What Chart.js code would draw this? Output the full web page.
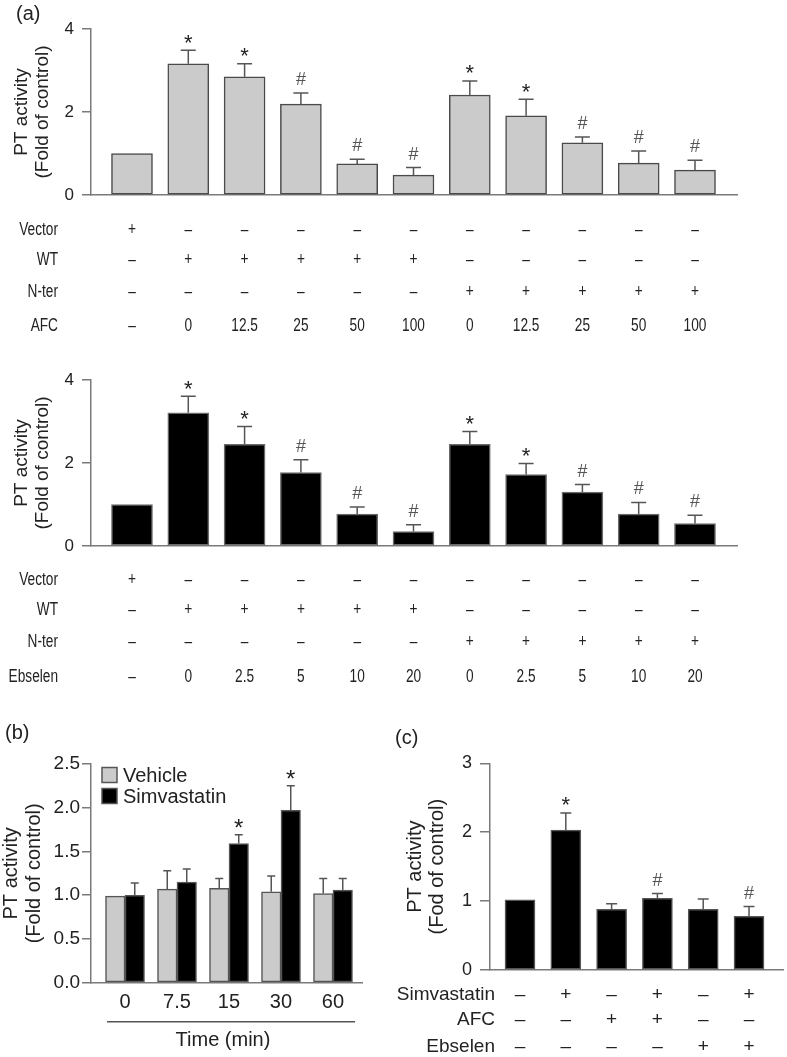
<!DOCTYPE html>
<html><head><meta charset="utf-8">
<script src="https://cdn.jsdelivr.net/npm/chart.js@4.4.1/dist/chart.umd.min.js"></script>
<style>
html,body{margin:0;padding:0;background:#fff;}
#wrap{position:relative;width:787px;height:1057px;overflow:hidden;background:#fff;}
canvas{position:absolute;display:block;}
</style></head><body>
<div id="wrap">
<canvas id="ca1" width="787" height="351" style="left:0;top:0"></canvas>
<canvas id="ca2" width="787" height="339" style="left:0;top:351px"></canvas>
<canvas id="cb" width="380" height="367" style="left:0;top:690px"></canvas>
<canvas id="cc" width="407" height="367" style="left:380px;top:690px"></canvas>
</div>
<script>
// ---------- Panel (a) top: AFC ----------
const vectorRow = ['+','–','–','–','–','–','–','–','–','–','–'];
const wtRow     = ['–','+','+','+','+','+','–','–','–','–','–'];
const nterRow   = ['–','–','–','–','–','–','+','+','+','+','+'];
const afcDoses  = ['–','0','12.5','25','50','100','0','12.5','25','50','100'];
const afcValues = [1.00,3.16,2.85,2.19,0.75,0.48,2.41,1.91,1.26,0.77,0.60];
const afcErrors = [0,0.33,0.31,0.27,0.11,0.18,0.34,0.40,0.14,0.29,0.24];
const afcMarks  = ['','*','*','#','#','#','*','*','#','#','#'];

// ---------- Panel (a) bottom: Ebselen ----------
const ebselenDoses  = ['–','0','2.5','5','10','20','0','2.5','5','10','20'];
const ebselenValues = [1.00,3.21,2.45,1.77,0.77,0.35,2.45,1.72,1.30,0.77,0.54];
const ebselenErrors = [0,0.40,0.43,0.31,0.17,0.16,0.31,0.27,0.18,0.28,0.20];
const ebselenMarks  = ['','*','*','#','#','#','*','*','#','#','#'];

// ---------- Panel (b): time course ----------
const timeLabels     = ['0','7.5','15','30','60'];
const vehicleValues  = [0.99,1.07,1.08,1.04,1.02];
const vehicleErrors  = [0,0.21,0.11,0.18,0.17];
const simvValues     = [1.00,1.15,1.59,1.97,1.06];
const simvErrors     = [0.14,0.15,0.10,0.28,0.13];
const simvMarks      = ['','','*','*',''];

// ---------- Panel (c) ----------
const cSimvRow  = ['–','+','–','+','–','+'];
const cAfcRow   = ['–','–','+','+','–','–'];
const cEbsRow   = ['–','–','–','–','+','+'];
const cValues   = [1.02,2.03,0.88,1.04,0.88,0.78];
const cErrors   = [0,0.25,0.08,0.07,0.15,0.14];
const cMarks    = ['','*','','#','','#'];

const FONT = "'Liberation Sans', Arial, Helvetica, sans-serif";
const AXIS = '#7a7a7a';
const TEXT = '#222';

function toXY(vals){ return vals.map((v,i)=>({x:i,y:v})); }

const errorBarPlugin = {
  id: 'errorBars',
  afterDatasetsDraw(chart, args, opts) {
    if (!opts || !opts.cap) return;
    const ctx = chart.ctx, ys = chart.scales.y;
    chart.data.datasets.forEach((ds, di) => {
      const meta = chart.getDatasetMeta(di);
      meta.data.forEach((el, i) => {
        const v = ds.data[i].y, e = (ds.errors || [])[i] || 0;
        const yTop = ys.getPixelForValue(v + e);
        ctx.save();
        ctx.strokeStyle = opts.color; ctx.lineWidth = opts.lineWidth;
        if (e > 0) {
          ctx.beginPath();
          ctx.moveTo(el.x, el.y); ctx.lineTo(el.x, yTop);
          ctx.moveTo(el.x - opts.cap/2, yTop); ctx.lineTo(el.x + opts.cap/2, yTop);
          ctx.stroke();
        }
        const m = (ds.marks || [])[i];
        if (m) {
          ctx.textAlign = 'center'; ctx.textBaseline = 'alphabetic';
          if (m === '*') {
            ctx.fillStyle = '#222';
            ctx.font = opts.starSize + 'px ' + FONT;
            ctx.fillText('*', el.x, yTop - 13 + opts.starSize * 0.57);
          } else {
            ctx.fillStyle = '#555';
            ctx.font = opts.hashSize + 'px ' + FONT;
            ctx.fillText('#', el.x, yTop - 8);
          }
        }
        ctx.restore();
      });
    });
  }
};

function drawScaled(ctx, t, x, y, align, sx) {
  ctx.save(); ctx.translate(x, y); ctx.scale(sx, 1); ctx.textAlign = align; ctx.fillText(t, 0, 0); ctx.restore();
}

const tablePlugin = {
  id: 'signTable',
  afterDraw(chart, args, opts) {
    if (!opts || !opts.rows) return;
    const ctx = chart.ctx, xs = chart.scales.x;
    ctx.save();
    ctx.fillStyle = TEXT; ctx.font = opts.size + 'px ' + FONT; ctx.textBaseline = 'middle';
    opts.rows.forEach((row, r) => {
      const yy = opts.ys[r];
      drawScaled(ctx, row.label, opts.labelRight, yy, 'right', opts.sx);
      row.values.forEach((t, i) => drawScaled(ctx, t, xs.getPixelForValue(i), yy, 'center', opts.sx));
    });
    ctx.restore();
  }
};

const extrasPlugin = {
  id: 'extras',
  afterDraw(chart, args, opts) {
    if (!opts) return;
    const ctx = chart.ctx;
    ctx.save();
    if (opts.panel) {
      ctx.fillStyle = TEXT; ctx.font = opts.panel.size + 'px ' + FONT;
      ctx.textAlign = 'left'; ctx.textBaseline = 'middle';
      ctx.fillText(opts.panel.text, opts.panel.x, opts.panel.y);
    }
    if (opts.legend) {
      const L = opts.legend;
      chart.data.datasets.forEach((ds, i) => {
        const cy = L.y + i * L.dy;
        ctx.fillStyle = ds.backgroundColor; ctx.strokeStyle = ds.borderColor; ctx.lineWidth = 1.5;
        ctx.fillRect(L.x, cy - L.box/2, L.box, L.box);
        ctx.strokeRect(L.x, cy - L.box/2, L.box, L.box);
        ctx.fillStyle = TEXT; ctx.font = L.size + 'px ' + FONT; ctx.textAlign = 'left'; ctx.textBaseline = 'middle';
        ctx.fillText(ds.label, L.x + L.box + 6, cy + 1);
      });
    }
    if (opts.xnote) {
      const N = opts.xnote;
      ctx.strokeStyle = '#555'; ctx.lineWidth = 1.5;
      ctx.beginPath(); ctx.moveTo(N.x1, N.ly); ctx.lineTo(N.x2, N.ly); ctx.stroke();
      ctx.fillStyle = TEXT; ctx.font = N.size + 'px ' + FONT; ctx.textAlign = 'center'; ctx.textBaseline = 'middle';
      ctx.fillText(N.text, N.tx, N.ty);
    }
    ctx.restore();
  }
};

function yAxis(min, max, step, tickSize, tickPad, tickLen, width, title, titleSize, titleLH, titlePad, cb) {
  return {
    type: 'linear', position: 'left', min, max,
    ticks: { stepSize: step, font: { size: tickSize, family: FONT }, color: TEXT, padding: tickPad,
             callback: cb || (v => v) },
    grid: { display: true, drawOnChartArea: false, drawTicks: true, tickLength: tickLen, color: AXIS, lineWidth: 1.5 },
    border: { display: true, color: AXIS, width: 1.5 },
    title: { display: true, text: title, color: TEXT, font: { size: titleSize, family: FONT, lineHeight: titleLH },
             padding: { top: titlePad, bottom: 0 } },
    afterFit: s => { s.width = width; }
  };
}

function xAxisHidden(min, max) {
  return {
    type: 'linear', min, max, offset: false,
    ticks: { display: false },
    grid: { display: false, drawTicks: false, offset: false },
    border: { display: true, color: AXIS, width: 1.5 },
    afterFit: s => { s.height = 0; }
  };
}

const common = { responsive: false, animation: false, devicePixelRatio: 1, events: [] };

// ---- Panel a top
new Chart(document.getElementById('ca1'), {
  type: 'bar',
  data: { datasets: [{ label: 'AFC', data: toXY(afcValues), errors: afcErrors, marks: afcMarks,
    backgroundColor: '#cbcbcb', borderColor: '#4a4a4a', borderWidth: 1.5, borderSkipped: false, barThickness: 41 }] },
  options: Object.assign({}, common, {
    layout: { padding: { left: 0, right: 50, top: 29, bottom: 156 } },
    scales: {
      x: xAxisHidden(-0.728, 10.746),
      y: yAxis(0, 4, 2, 17, 8, 9, 91, ['PT activity', '(Fold of control)'], 19, 1.1, 11.5)
    },
    plugins: {
      legend: { display: false }, tooltip: { enabled: false },
      errorBars: { cap: 15, color: '#555', lineWidth: 1.5, starSize: 22, hashSize: 18 },
      signTable: { size: 18, sx: 0.76, labelRight: 58, ys: [230, 260, 292, 326],
        rows: [ { label: 'Vector', values: vectorRow }, { label: 'WT', values: wtRow },
                { label: 'N-ter', values: nterRow }, { label: 'AFC', values: afcDoses } ] },
      extras: { panel: { text: '(a)', x: 16, y: 14, size: 20 } }
    }
  }),
  plugins: [errorBarPlugin, tablePlugin, extrasPlugin]
});

// ---- Panel a bottom
new Chart(document.getElementById('ca2'), {
  type: 'bar',
  data: { datasets: [{ label: 'Ebselen', data: toXY(ebselenValues), errors: ebselenErrors, marks: ebselenMarks,
    backgroundColor: '#000000', borderColor: '#6a6a6a', borderWidth: 1.5, borderSkipped: false, barThickness: 41 }] },
  options: Object.assign({}, common, {
    layout: { padding: { left: 0, right: 50, top: 29, bottom: 144 } },
    scales: {
      x: xAxisHidden(-0.728, 10.746),
      y: yAxis(0, 4, 2, 17, 8, 9, 91, ['PT activity', '(Fold of control)'], 19, 1.1, 11.5)
    },
    plugins: {
      legend: { display: false }, tooltip: { enabled: false },
      errorBars: { cap: 15, color: '#555', lineWidth: 1.5, starSize: 22, hashSize: 18 },
      signTable: { size: 18, sx: 0.76, labelRight: 58, ys: [229, 259, 291, 326],
        rows: [ { label: 'Vector', values: vectorRow }, { label: 'WT', values: wtRow },
                { label: 'N-ter', values: nterRow }, { label: 'Ebselen', values: ebselenDoses } ] }
    }
  }),
  plugins: [errorBarPlugin, tablePlugin]
});

// ---- Panel b
new Chart(document.getElementById('cb'), {
  type: 'bar',
  data: { datasets: [
    { label: 'Vehicle', data: toXY(vehicleValues), errors: vehicleErrors, marks: [],
      backgroundColor: '#cbcbcb', borderColor: '#555555', borderWidth: 1.5, borderSkipped: false, barThickness: 19.5 },
    { label: 'Simvastatin', data: toXY(simvValues), errors: simvErrors, marks: simvMarks,
      backgroundColor: '#000000', borderColor: '#555555', borderWidth: 1.5, borderSkipped: false, barThickness: 19.5 }
  ] },
  options: Object.assign({}, common, {
    layout: { padding: { left: 0, right: 18, top: 74, bottom: 34.3 } },
    scales: {
      x: {
        type: 'linear', min: -0.654, max: 4.558, offset: false,
        afterBuildTicks: s => { s.ticks = timeLabels.map((t, i) => ({ value: i })); },
        ticks: { display: true, autoSkip: false, maxRotation: 0, font: { size: 20, family: FONT }, color: TEXT, padding: 8,
                 callback: (v, i) => timeLabels[i] },
        grid: { display: false, drawTicks: false, offset: false },
        border: { display: true, color: AXIS, width: 1.5 },
        afterFit: s => { s.height = 40; }
      },
      y: yAxis(0, 2.5, 0.5, 19, 2, 9, 91, ['PT activity', '(Fold of control)'], 20, 1.15, 0, v => v.toFixed(1))
    },
    plugins: {
      legend: { display: false }, tooltip: { enabled: false },
      errorBars: { cap: 8, color: '#555', lineWidth: 1.5, starSize: 24, hashSize: 18 },
      extras: {
        panel: { text: '(b)', x: 5, y: 43, size: 20 },
        legend: { x: 102, y: 85, dy: 21, box: 15, size: 20 },
        xnote: { x1: 107, x2: 355, ly: 331.7, text: 'Time (min)', tx: 223, ty: 350, size: 20 }
      }
    }
  }),
  plugins: [errorBarPlugin, extrasPlugin]
});

// ---- Panel c
new Chart(document.getElementById('cc'), {
  type: 'bar',
  data: { datasets: [{ label: 'PT activity', data: toXY(cValues), errors: cErrors, marks: cMarks,
    backgroundColor: '#000000', borderColor: '#555555', borderWidth: 1.5, borderSkipped: false, barThickness: 30 }] },
  options: Object.assign({}, common, {
    layout: { padding: { left: 0, right: 4, top: 73.3, bottom: 87 } },
    scales: {
      x: xAxisHidden(-0.655, 5.742),
      y: yAxis(0, 3, 1, 18, 8, 10, 110, ['PT activity', '(Fod of control)'], 20, 1.1, 24)
    },
    plugins: {
      legend: { display: false }, tooltip: { enabled: false },
      errorBars: { cap: 11, color: '#555', lineWidth: 1.5, starSize: 22, hashSize: 18 },
      signTable: { size: 19, sx: 1.0, labelRight: 115, ys: [305, 330, 357],
        rows: [ { label: 'Simvastatin', values: cSimvRow }, { label: 'AFC', values: cAfcRow },
                { label: 'Ebselen', values: cEbsRow } ] },
      extras: { panel: { text: '(c)', x: 15, y: 48, size: 20 } }
    }
  }),
  plugins: [errorBarPlugin, tablePlugin, extrasPlugin]
});
</script>
</body></html>
